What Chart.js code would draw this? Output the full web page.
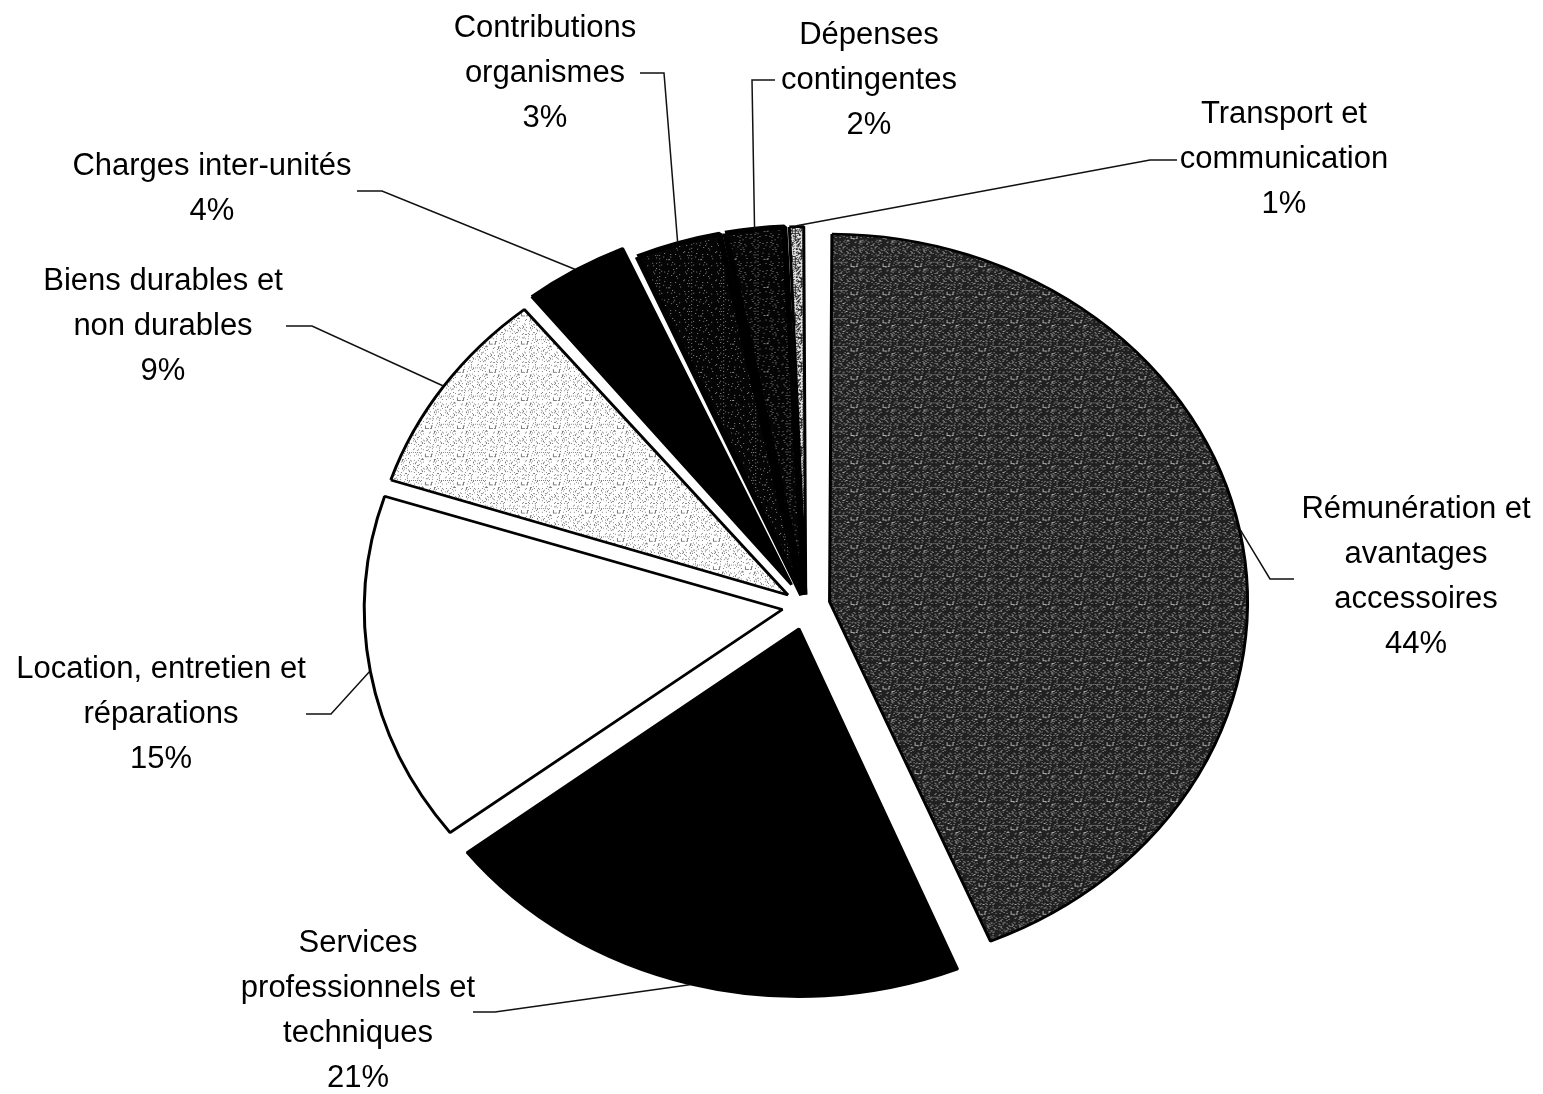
<!DOCTYPE html>
<html>
<head>
<meta charset="utf-8">
<script src="https://cdn.jsdelivr.net/npm/chart.js@4.4.0/dist/chart.umd.min.js"></script>
<style>
  html, body { margin: 0; padding: 0; background: #fff; }
  #wrap { width: 1543px; height: 1094px; }
</style>
</head>
<body>
<div id="wrap"><canvas id="pieChart" width="1543" height="1094"></canvas></div>
<script>
const categories = [
  "Rémunération et avantages accessoires",
  "Services professionnels et techniques",
  "Location, entretien et réparations",
  "Biens durables et non durables",
  "Charges inter-unités",
  "Contributions organismes",
  "Dépenses contingentes",
  "Transport et communication",
];
// shares in % (labels show them rounded)
const shares = [43.8, 20.8, 15.4, 9.2, 4.3, 3.4, 2.4, 0.7];
// how each name is broken over lines in the labels
const labelLines = [
  ["Rémunération et", "avantages", "accessoires"],
  ["Services", "professionnels et", "techniques"],
  ["Location, entretien et", "réparations"],
  ["Biens durables et", "non durables"],
  ["Charges inter-unités"],
  ["Contributions", "organismes"],
  ["Dépenses", "contingentes"],
  ["Transport et", "communication"],
];

// the scanned pie is an ellipse: draw a circle and squash it vertically
const SQUASH = 0.88;
const RADIUS = 418;
const CENTER_X = 806;
const CENTER_Y = 606; // page pixels
const explode = [24, 27, 24, 22, 28, 13, 13, 13];
// the two black thin slices get a wider outline so they read as one block
const outline = [3, 3, 3, 3, 3, 6, 6, 3];
const LINE_GAP = 45;

// label blocks: centre x, first line y, leader elbow and end (page pixels)
const labelLayout = [
  { x: 1416, y: 509, elbow: [1270, 579], end: [1294, 579] },
  { x: 358, y: 943, elbow: [495, 1012], end: [473, 1012] },
  { x: 161, y: 669, elbow: [331, 714], end: [306, 714] },
  { x: 163, y: 281, elbow: [312, 326], end: [286, 326] },
  { x: 212, y: 166, elbow: [382, 191], end: [357, 191] },
  { x: 545, y: 28, elbow: [664, 73], end: [640, 73] },
  { x: 869, y: 35, elbow: [752, 80], end: [775, 80] },
  { x: 1284, y: 114, elbow: [1150, 160], end: [1177, 160] },
];

// scanned half-tone look: dots where a fixed hash falls under the density
function stipple(bg, dot, density) {
  const size = 32;
  const c = document.createElement("canvas");
  c.width = size;
  c.height = size;
  const g = c.getContext("2d");
  g.fillStyle = bg;
  g.fillRect(0, 0, size, size);
  g.fillStyle = dot;
  for (let y = 0; y < size; y++) {
    for (let x = 0; x < size; x++) {
      const h = (x * 374761 + y * 668265 + x * y * 1442695) % 1000;
      if (h < density * 1000) g.fillRect(x, y, 1, 1);
    }
  }
  return g.createPattern(c, "repeat");
}

const fills = [
  stipple("#202020", "#b0b0b0", 0.14),
  "#000000",
  "#ffffff",
  stipple("#ffffff", "#7a7a7a", 0.13),
  "#000000",
  stipple("#050505", "#9a9a9a", 0.04),
  stipple("#050505", "#9a9a9a", 0.05),
  stipple("#e8e8e8", "#2a2a2a", 0.45),
];

// keep every exploded slice at the same radius
const evenRadius = {
  id: "evenRadius",
  afterDatasetUpdate(chart, args) {
    args.meta.data.forEach((arc) => {
      const fix = 1 - Math.sin(Math.min(Math.PI, arc.circumference));
      arc.outerRadius = RADIUS - (arc.options.offset / 4) * fix;
    });
  },
};

const squash = {
  id: "squash",
  beforeDraw(chart) {
    chart.ctx.save();
    chart.ctx.scale(1, SQUASH);
  },
  afterDatasetsDraw(chart) {
    chart.ctx.restore();
  },
};

const sliceLabels = {
  id: "sliceLabels",
  afterDraw(chart) {
    const ctx = chart.ctx;
    const meta = chart.getDatasetMeta(0);
    ctx.save();
    ctx.font = '31px "Liberation Sans", Arial, sans-serif';
    ctx.fillStyle = "#000";
    ctx.textAlign = "center";
    ctx.textBaseline = "middle";
    ctx.strokeStyle = "#111";
    ctx.lineWidth = 1.5;
    meta.data.forEach((arc, i) => {
      const lay = labelLayout[i];
      const mid = (arc.startAngle + arc.endAngle) / 2;
      const shift = arc.options.offset / 4;
      const r = RADIUS + shift + 1;
      const ax = arc.x + Math.cos(mid) * r;
      const ay = (arc.y + Math.sin(mid) * r) * SQUASH;
      ctx.beginPath();
      ctx.moveTo(ax, ay);
      ctx.lineTo(lay.elbow[0], lay.elbow[1]);
      ctx.lineTo(lay.end[0], lay.end[1]);
      ctx.stroke();
      const lines = labelLines[i].concat([Math.round(shares[i]) + "%"]);
      lines.forEach((t, k) => ctx.fillText(t, lay.x, lay.y + k * LINE_GAP));
    });
    ctx.restore();
  },
};

function initChart() {
  const ctx = document.getElementById("pieChart").getContext("2d");
  const cy = CENTER_Y / SQUASH;
  new Chart(ctx, {
    type: "pie",
    data: {
      labels: categories,
      datasets: [
        {
          data: shares,
          backgroundColor: fills,
          borderColor: "#000",
          borderWidth: outline,
          offset: explode.map((o) => o * 4),
          clip: false,
        },
      ],
    },
    options: {
      responsive: false,
      animation: false,
      events: [],
      radius: RADIUS,
      layout: {
        padding: {
          left: 2 * CENTER_X - 1543,
          right: 0,
          top: Math.round(2 * cy - 1094),
          bottom: 0,
        },
      },
      plugins: {
        legend: { display: false },
        tooltip: { enabled: false },
      },
    },
    plugins: [evenRadius, squash, sliceLabels],
  });
}

window.onload = () => {
  initChart();
};
</script>
</body>
</html>
